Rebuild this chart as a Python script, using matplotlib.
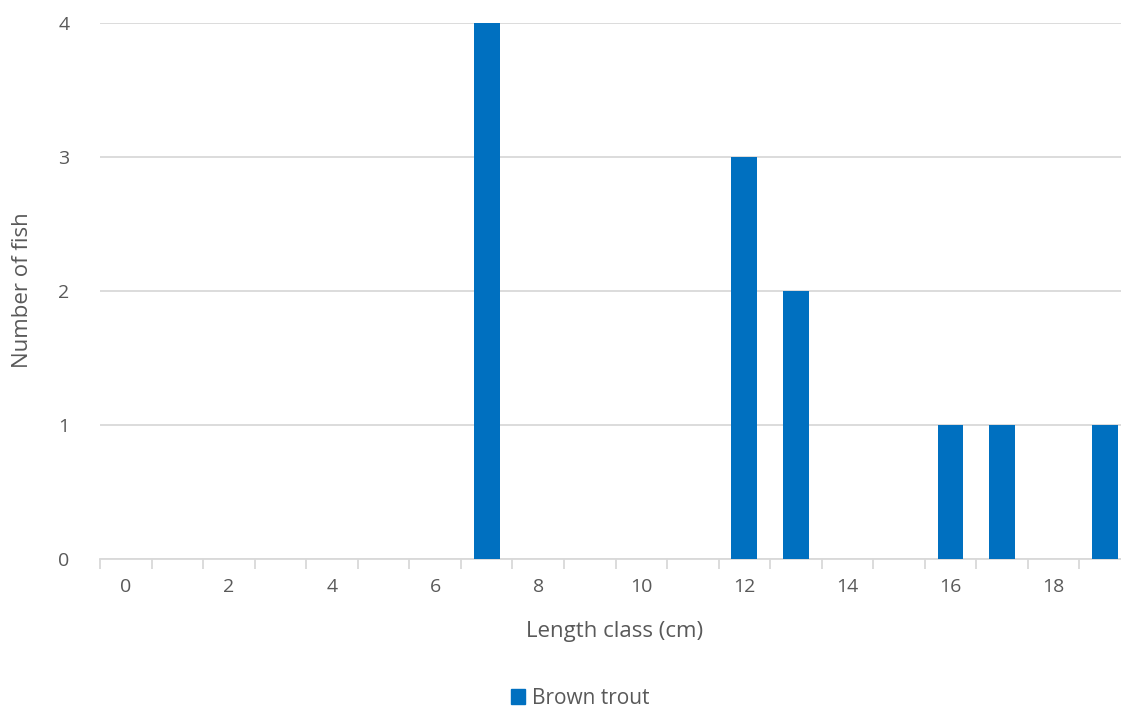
import matplotlib
matplotlib.use("Agg")
import matplotlib.pyplot as plt
from matplotlib.patches import Patch

plt.rcParams["font.family"] = ["Open Sans", "DejaVu Sans"]

length_class = list(range(20))
counts = [0, 0, 0, 0, 0, 0, 0, 4, 0, 0, 0, 0, 3, 2, 0, 0, 1, 1, 0, 1]
y_ticks = [0, 1, 2, 3, 4]

grey = "#595959"
line = "#d9d9d9"
blue = "#0070c0"

fig = plt.figure(figsize=(11.21, 7.08), dpi=100)
# the plot area runs a little past the right edge of the picture
ax = fig.add_axes([100 / 1121, 1 - 559 / 708, 1031 / 1121, 536 / 708])

ax.bar(length_class, counts, width=0.5, color=blue, zorder=3)

ax.set_xlim(-0.5, 19.5)
ax.set_ylim(0, 4)
ax.set_yticks(y_ticks)
ax.yaxis.grid(True, color=line, linewidth=1.3)
ax.set_axisbelow(True)

# labels every second class, tick marks at class boundaries
ax.set_xticks(length_class[::2])
ax.set_xticklabels([str(v) for v in length_class[::2]])
ax.set_xticks([v - 0.5 for v in range(21)], minor=True)
ax.tick_params(axis="x", which="major", length=0, pad=14, labelsize=14, colors=grey)
ax.tick_params(axis="x", which="minor", length=7, width=1.3, color=line)
ax.tick_params(axis="y", length=0, pad=22, labelsize=14, colors=grey)

for s in ["top", "right", "left"]:
    ax.spines[s].set_visible(False)
ax.spines["bottom"].set_color(line)
ax.spines["bottom"].set_linewidth(1.3)

ax.set_xlabel("Length class (cm)", fontsize=16, color=grey)
ax.set_ylabel("Number of fish", fontsize=16, color=grey)
ax.xaxis.set_label_coords((615 - 100) / 1031, -(632 - 559) / 536)
ax.yaxis.set_label_coords((23 - 100) / 1031, (559 - 290) / 536)
ax.xaxis.label.set_va("center")
ax.yaxis.label.set_va("center")

fig.legend(handles=[Patch(color=blue, label="Brown trout")],
           loc="center", bbox_to_anchor=(580 / 1121, 1 - 698 / 708),
           frameon=False, fontsize=15, labelcolor=grey,
           handlelength=0.7, handleheight=0.7, handletextpad=0.3)

fig.savefig("out.png", dpi=100)
